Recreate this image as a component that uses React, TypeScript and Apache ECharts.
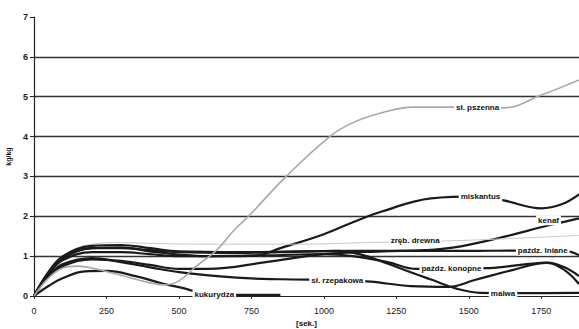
import React, { useEffect, useRef } from 'react';
import * as echarts from 'echarts';

const seriesNames = ['sł. pszenna', 'miskantus', 'kenaf', 'zręb. drewna', 'paźdz. lniane', 'paźdz. konopne', 'sł. rzepakowa', 'malwa', 'kukurydza'];

const pszenna = [[0,0],[50,0.45],[100,0.7],[150,0.75],[200,0.7],[300,0.52],[400,0.33],[450,0.28],[500,0.38],[560,0.75],[630,1.15],[690,1.65],[740,2.0],[870,3.0],[1020,4.0],[1100,4.35],[1200,4.6],[1310,4.74],[1440,4.74],[1620,4.72],[1750,5.04],[1880,5.42]];
const miskantus = [[0,0],[50,0.6],[100,0.95],[200,1.2],[300,1.22],[400,1.12],[500,1.04],[600,1.0],[700,1.0],[770,1.02],[850,1.2],[1000,1.55],[1100,1.85],[1200,2.12],[1370,2.45],[1530,2.5],[1620,2.4],[1750,2.2],[1820,2.3],[1880,2.55]];
const kenaf = [[0,0],[50,0.5],[100,0.75],[200,0.92],[300,0.88],[400,0.78],[500,0.68],[600,0.68],[800,0.85],[1000,1.05],[1200,1.12],[1350,1.15],[1450,1.22],[1600,1.45],[1780,1.78],[1880,1.95]];
const zrebDrewna = [[0,0],[50,0.62],[100,1.02],[200,1.3],[300,1.34],[400,1.32],[600,1.3],[900,1.3],[1200,1.35],[1500,1.4],[1880,1.52]];
const lniane = [[0,0],[50,0.6],[100,1.0],[200,1.26],[300,1.28],[400,1.2],[500,1.12],[700,1.1],[900,1.12],[1100,1.13],[1300,1.13],[1500,1.13],[1650,1.14],[1840,1.12],[1880,1.02]];
const konopne = [[0,0],[50,0.55],[100,0.9],[200,1.1],[300,1.1],[400,1.05],[500,1.0],[800,1.02],[1000,1.05],[1100,1.0],[1220,0.85],[1320,0.68],[1570,0.7],[1700,0.8],[1770,0.84],[1830,0.72],[1880,0.5]];
const rzepakowa = [[0,0],[50,0.5],[100,0.8],[200,0.95],[300,0.85],[400,0.72],[500,0.6],[700,0.46],[850,0.42],[1050,0.4],[1160,0.36],[1300,0.25],[1430,0.23],[1520,0.4],[1650,0.65],[1770,0.83],[1830,0.65],[1880,0.3]];
const malwa = [[0,0],[50,0.58],[100,0.95],[200,1.2],[300,1.2],[400,1.15],[500,1.1],[700,1.08],[850,1.1],[1050,1.13],[1137,1.02],[1195,0.88],[1309,0.57],[1367,0.42],[1460,0.18],[1540,0.08],[1700,0.07],[1880,0.08]];
const kukurydza = [[0,0],[50,0.25],[100,0.45],[175,0.62],[250,0.63],[350,0.5],[450,0.3],[525,0.18],[580,0.06],[650,0.03],[850,0.03]];

const seriesData = [pszenna, miskantus, kenaf, zrebDrewna, lniane, konopne, rzepakowa, malwa, kukurydza];
const labelPos = [[1530,4.73],[1540,2.5],[1775,1.9],[1315,1.4],[1755,1.14],[1440,0.68],[1046,0.4],[1618,0.06],[622,0.03]];
const lineColors = ['#a8a8a8','#1a1a1a','#1a1a1a','#c8c8c8','#1a1a1a','#1a1a1a','#1a1a1a','#1a1a1a','#1a1a1a'];
const lineWidths = [1.6, 2.2, 2.2, 1, 2.2, 2.2, 2.2, 2.2, 2.2];

const yTickValues = [0, 1, 2, 3, 4, 5, 6, 7];
const xTickValues = [0, 250, 500, 750, 1000, 1250, 1500, 1750];

const FONT = 'Liberation Sans, Arial, sans-serif';

export default function App() {
  const ref = useRef<HTMLDivElement>(null);
  useEffect(() => {
    if (!ref.current) return;
    const chart = echarts.init(ref.current, undefined, { renderer: 'svg' });
    chart.setOption({
      animation: false,
      backgroundColor: '#fff',
      grid: { left: 34, right: 0, top: 17, bottom: 33, containLabel: false, outerBoundsMode: 'none' },
      xAxis: {
        type: 'value',
        min: xTickValues[0],
        max: 1880,
        interval: 250,
        name: '[sek.]',
        nameLocation: 'middle',
        nameGap: 22,
        nameTextStyle: { fontFamily: FONT, fontSize: 8, fontWeight: 'bold', color: '#111' },
        axisLine: { lineStyle: { color: '#222', width: 1.2 } },
        axisTick: { show: true, length: 3, lineStyle: { color: '#222' } },
        axisLabel: {
          showMaxLabel: false,
          fontFamily: 'Liberation Sans Narrow, Arial Narrow, Liberation Sans, sans-serif',
          fontSize: 9,
          color: '#222',
          margin: 10,
          formatter: (v: number) => String(v),
        },
        splitLine: { show: false },
      },
      yAxis: {
        type: 'value',
        min: yTickValues[0],
        max: yTickValues[yTickValues.length - 1],
        interval: 1,
        name: 'kg/kg',
        nameLocation: 'middle',
        nameRotate: 90,
        nameGap: 20,
        nameTextStyle: { fontFamily: FONT, fontSize: 7, fontWeight: 'bold', color: '#111' },
        axisLine: { show: true, lineStyle: { color: '#222', width: 1.2 } },
        axisTick: { show: true, length: 4, lineStyle: { color: '#222' } },
        axisLabel: { fontFamily: FONT, fontSize: 9, fontWeight: 'bold', color: '#222', margin: 6 },
        splitLine: { show: true, showMinLine: false, showMaxLine: false, lineStyle: { color: '#333', width: 1.4 } },
      },
      series: seriesNames.map((name, i) => ({
        name,
        type: 'line',
        smooth: 0.4,
        symbol: 'none',
        data: seriesData[i],
        lineStyle: { color: lineColors[i], width: lineWidths[i] },
        z: i === 0 ? 3 : 2,
        markPoint: {
          silent: true,
          symbol: 'rect',
          symbolSize: 0,
          z: 10,
          data: [
            {
              coord: labelPos[i],
              label: {
                show: true,
                position: 'inside',
                formatter: name,
                fontFamily: FONT,
                fontSize: 8,
                fontWeight: 'bold',
                color: '#111',
                backgroundColor: '#fff',
                padding: [1, 2],
              },
            },
          ],
        },
      })),
    });
    return () => chart.dispose();
  }, []);
  return <div ref={ref} style={{ position: 'absolute', left: 0, top: 0, width: 579, height: 329 }} />;
}
